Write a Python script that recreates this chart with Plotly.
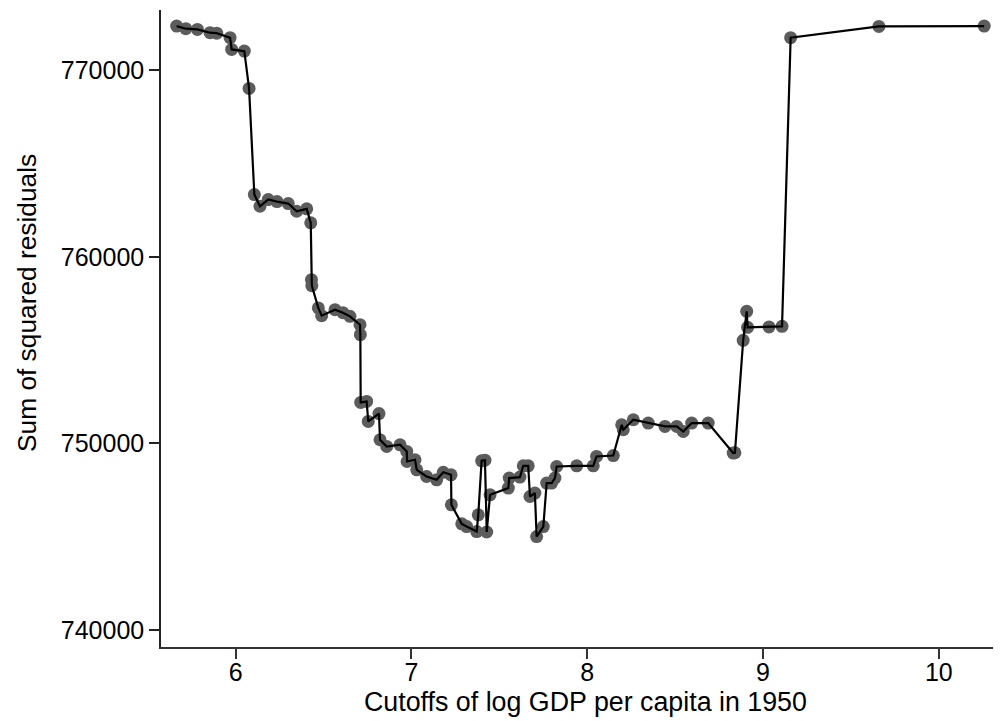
import plotly.graph_objects as go

cutoffs = [5.664, 5.716, 5.782, 5.854, 5.892, 5.968, 5.977, 6.049, 6.076, 6.106,
           6.138, 6.185, 6.235, 6.299, 6.347, 6.404, 6.427, 6.431, 6.433, 6.470,
           6.489, 6.565, 6.610, 6.650, 6.707, 6.709, 6.711, 6.745, 6.754, 6.815,
           6.821, 6.859, 6.935, 6.973, 6.975, 7.020, 7.030, 7.086, 7.143, 7.181,
           7.225, 7.227, 7.286, 7.314, 7.371, 7.380, 7.399, 7.418, 7.428, 7.447,
           7.551, 7.556, 7.617, 7.636, 7.664, 7.674, 7.702, 7.712, 7.750, 7.769,
           7.797, 7.816, 7.826, 7.940, 8.034, 8.053, 8.148, 8.196, 8.205, 8.262,
           8.347, 8.442, 8.509, 8.546, 8.594, 8.688, 8.830, 8.840, 8.887, 8.907,
           8.912, 9.034, 9.108, 9.157, 9.659, 10.258]

ssr = [772377, 772238, 772200, 772023, 772000, 771755, 771127, 771036, 769034, 763345,
       762717, 763077, 762969, 762862, 762449, 762578, 761826, 758783, 758461, 757265,
       756851, 757173, 757012, 756814, 756368, 755832, 752198, 752252, 751179, 751600,
       750197, 749837, 749928, 749569, 749032, 749123, 748587, 748227, 748050, 748453,
       748318, 746708, 745689, 745544, 745275, 746172, 749070, 749100, 745250, 747245,
       747605, 748141, 748195, 748801, 748801, 747154, 747336, 745007, 745544, 747873,
       747873, 748141, 748764, 748800, 748800, 749301, 749350, 751002, 750733, 751270,
       751093, 750911, 750911, 750642, 751093, 751093, 749483, 749500, 755526, 757082,
       756224, 756245, 756277, 771755, 772361, 772377]

x_ticks = [6, 7, 8, 9, 10]
y_ticks = [740000, 750000, 760000, 770000]

x_title = "Cutoffs of log GDP per capita in 1950"
y_title = "Sum of squared residuals"

font_family = "Liberation Sans, Arial, sans-serif"
fs = 25
title_fs = 26.8

fig = go.Figure()
fig.add_trace(go.Scatter(
    x=cutoffs, y=ssr, mode="markers",
    marker=dict(size=13, color="#5c5c5c", line=dict(width=0)),
    showlegend=False, hoverinfo="skip"))
fig.add_trace(go.Scatter(
    x=cutoffs, y=ssr, mode="lines",
    line=dict(color="black", width=2.2),
    showlegend=False))

# page body has an 8px default margin; figure sized to fit the window
fig.update_layout(
    width=993, height=713,
    margin=dict(l=153, r=1, t=2, b=74, autoexpand=False),
    paper_bgcolor="white", plot_bgcolor="white",
    font=dict(family=font_family, size=fs, color="black"),
    xaxis=dict(
        range=[5.575, 10.348],
        tickvals=x_ticks, automargin=False,
        ticks="outside", ticklen=10, tickwidth=1.5, tickcolor="#333",
        ticklabelstandoff=-8,
        showline=True, linecolor="#333", linewidth=2,
        showgrid=False, zeroline=False,
        tickfont=dict(size=fs),
    ),
    yaxis=dict(
        range=[739085, 773240],
        tickvals=y_ticks, tickformat="d", automargin=False,
        ticks="outside", ticklen=10, tickwidth=1.5, tickcolor="#222",
        showline=True, linecolor="#222", linewidth=1.5,
        showgrid=False, zeroline=False,
        tickfont=dict(size=fs),
    ),
    annotations=[
        dict(text=x_title, xref="paper", yref="paper",
             x=(585 - 161) / 839, y=(647 - 702) / 637,
             xanchor="center", yanchor="middle", showarrow=False,
             font=dict(size=title_fs, family=font_family, color="black")),
        dict(text=y_title, xref="paper", yref="paper",
             x=(27 - 161) / 839, y=(647 - 303) / 637, textangle=-90,
             xanchor="center", yanchor="middle", showarrow=False,
             font=dict(size=26.3, family=font_family, color="black")),
    ],
)

fig.write_html("out.html")
